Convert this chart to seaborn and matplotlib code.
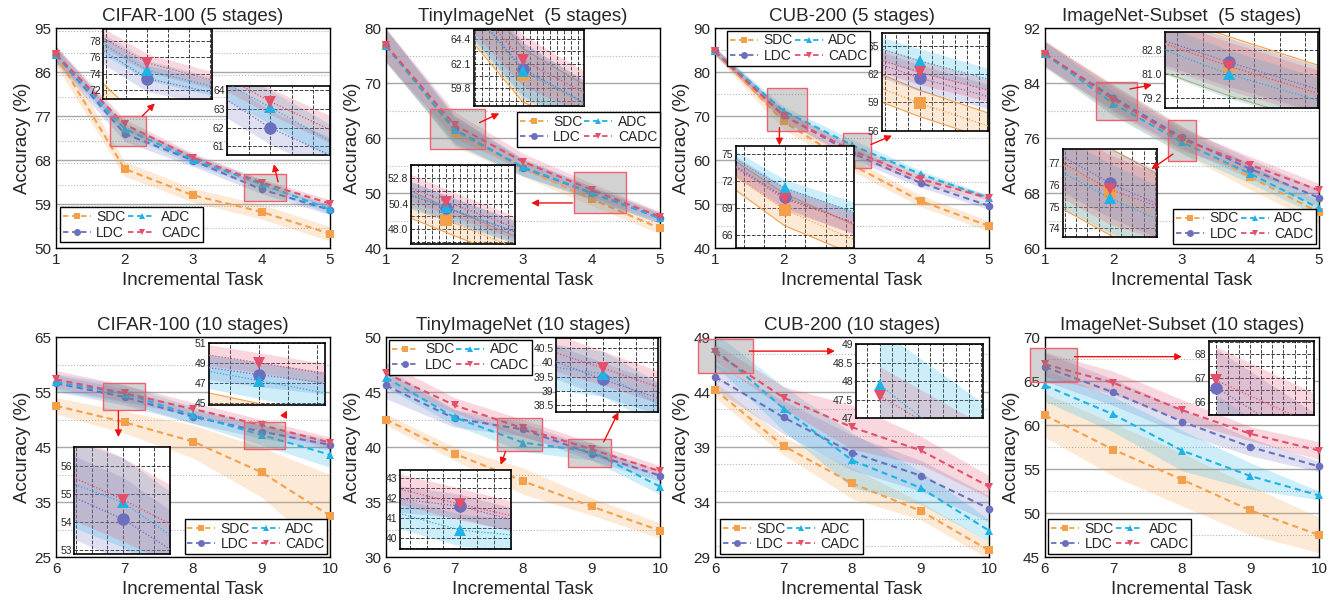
import numpy as np
import pandas as pd
import matplotlib.pyplot as plt
import seaborn as sns
from matplotlib.lines import Line2D
from matplotlib.patches import Rectangle
from matplotlib.ticker import MultipleLocator

sns.set_style("white")
plt.rcParams['font.family'] = ['Liberation Sans', 'DejaVu Sans']

methods = ["SDC", "LDC", "ADC", "CADC"]
tasks_5 = [1, 2, 3, 4, 5]
tasks_10 = [6, 7, 8, 9, 10]

# accuracy (mean) and band half-width per dataset
cifar5_acc = {"SDC": [89.5, 66.2, 60.8, 57.4, 52.9], "LDC": [89.5, 73.4, 67.9, 62.0, 57.8],
              "ADC": [89.5, 74.4, 68.1, 63.1, 57.9], "CADC": [89.6, 75.3, 68.5, 63.4, 59.1]}
cifar5_std = {"SDC": [2.2, 1.5, 1.4, 1.5, 1.5], "LDC": [1.8, 1.6, 1.2, 0.9, 1.0],
              "ADC": [1.5, 1.2, 1.0, 0.9, 0.9], "CADC": [1.6, 1.1, 0.9, 0.7, 0.8]}

tiny5_acc = {"SDC": [76.8, 61.0, 54.5, 48.9, 43.6], "LDC": [76.8, 61.6, 54.6, 50.0, 45.5],
             "ADC": [76.8, 61.4, 54.7, 50.1, 45.4], "CADC": [76.9, 62.4, 55.7, 50.6, 45.7]}
tiny5_std = {"SDC": [3.0, 2.5, 1.5, 1.2, 1.0], "LDC": [3.0, 2.5, 1.5, 1.2, 1.0],
             "ADC": [3.0, 2.6, 1.6, 1.1, 0.9], "CADC": [3.0, 2.4, 1.5, 1.2, 0.9]}

cub5_acc = {"SDC": [84.7, 68.8, 58.9, 50.7, 45.0], "LDC": [84.7, 70.2, 61.6, 54.8, 49.6],
            "ADC": [84.7, 71.2, 63.4, 56.8, 51.4], "CADC": [84.7, 70.0, 62.2, 55.7, 51.3]}
cub5_std = {"SDC": [1.0, 1.8, 1.4, 1.3, 1.2], "LDC": [0.8, 1.2, 1.4, 1.0, 0.8],
            "ADC": [0.8, 1.0, 1.3, 0.8, 0.6], "CADC": [0.8, 1.2, 1.3, 0.9, 0.7]}

inet5_acc = {"SDC": [88.2, 81.6, 75.7, 70.3, 65.2], "LDC": [88.2, 81.9, 76.1, 71.5, 67.3],
             "ADC": [88.2, 81.0, 75.4, 70.8, 65.8], "CADC": [88.3, 81.6, 75.8, 72.1, 68.4]}
inet5_std = {"SDC": [2.0, 2.2, 2.0, 1.8, 1.6], "LDC": [1.8, 1.8, 1.6, 1.4, 1.2],
             "ADC": [1.8, 1.8, 1.6, 1.4, 1.2], "CADC": [1.8, 1.8, 1.6, 1.2, 1.0]}

cifar10_acc = {"SDC": [52.5, 49.5, 46.0, 40.4, 32.5], "LDC": [56.6, 54.1, 50.5, 47.8, 45.4],
               "ADC": [56.8, 54.7, 50.8, 47.2, 43.6], "CADC": [57.3, 54.8, 51.9, 49.0, 45.8]}
cifar10_std = {"SDC": [1.5, 2.0, 3.0, 4.5, 7.5], "LDC": [1.5, 1.5, 1.2, 1.2, 1.0],
               "ADC": [1.5, 1.6, 1.5, 1.8, 2.3], "CADC": [1.6, 1.5, 1.2, 1.0, 1.0]}

tiny10_acc = {"SDC": [42.5, 39.4, 36.9, 34.6, 32.4], "LDC": [45.6, 42.6, 41.6, 39.4, 37.4],
              "ADC": [46.3, 42.7, 40.4, 39.6, 36.4], "CADC": [46.7, 43.8, 41.7, 39.8, 37.8]}
tiny10_std = {"SDC": [0.5, 0.6, 1.2, 0.8, 0.7], "LDC": [1.2, 0.8, 0.6, 0.6, 0.5],
              "ADC": [0.9, 0.7, 0.8, 0.8, 0.7], "CADC": [1.0, 0.7, 0.8, 0.6, 0.5]}

cub10_acc = {"SDC": [44.2, 39.1, 35.7, 33.2, 29.6], "LDC": [45.4, 41.7, 38.5, 36.4, 33.4],
             "ADC": [47.9, 42.5, 37.8, 35.3, 31.4], "CADC": [47.6, 43.5, 40.8, 38.7, 35.4]}
cub10_std = {"SDC": [0.7, 0.8, 1.4, 0.8, 0.8], "LDC": [1.2, 1.5, 1.6, 1.4, 1.2],
             "ADC": [1.5, 2.0, 2.5, 1.5, 1.0], "CADC": [0.8, 1.0, 2.0, 1.3, 1.0]}

inet10_acc = {"SDC": [61.1, 57.2, 53.8, 50.3, 47.5], "LDC": [66.6, 63.7, 60.4, 57.5, 55.3],
              "ADC": [64.5, 61.2, 57.1, 54.2, 52.0], "CADC": [66.9, 64.8, 61.7, 59.0, 57.1]}
inet10_std = {"SDC": [2.5, 3.0, 3.0, 2.8, 2.0], "LDC": [1.6, 1.5, 1.4, 1.0, 0.6],
              "ADC": [1.8, 2.0, 2.3, 1.5, 0.5], "CADC": [1.4, 1.3, 1.2, 0.8, 1.0]}

colors = {"SDC": "#F4A04A", "LDC": "#6B70BE", "ADC": "#1FB3E5", "CADC": "#E2506B"}
markers = {"SDC": "s", "LDC": "o", "ADC": "^", "CADC": "v"}

# layout of each panel: limits, legend spot, zoomed insets
panels = [
    dict(title="CIFAR-100 (5 stages)", tasks=tasks_5, acc=cifar5_acc, std=cifar5_std,
         ylim=(50, 95), ystep=9, legend=("lower left", (0.015, 0.026)),
         insets=[dict(pos=[0.173, 0.677, 0.397, 0.318], xlim=(1.79, 2.31), ylim=(70.9, 79.4),
                      yticks=[72, 74, 76, 78], xstep=0.1, box=(1.79, 2.31, 70.8, 77.1),
                      arrow=((2.23, 76.6), (2.47, 80.0))),
                 dict(pos=[0.625, 0.424, 0.375, 0.314], xlim=(3.75, 4.35), ylim=(60.55, 64.25),
                      yticks=[61, 62, 63, 64], xstep=0.125, box=(3.75, 4.35, 59.6, 65.2),
                      arrow=((4.25, 63.0), (4.17, 67.7)))]),
    dict(title="TinyImageNet  (5 stages)", tasks=tasks_5, acc=tiny5_acc, std=tiny5_std,
         ylim=(40, 80), ystep=10, legend=("lower left", (0.478, 0.46)),
         insets=[dict(pos=[0.32, 0.644, 0.404, 0.345], xlim=(1.64, 2.45), ylim=(58.1, 65.2),
                      yticks=[59.8, 62.1, 64.4], xstep=0.05, yminor=True, box=(1.64, 2.45, 58.0, 65.2),
                      arrow=((2.33, 62.6), (2.69, 64.7))),
                 dict(pos=[0.092, 0.018, 0.379, 0.358], xlim=(3.75, 4.5), ylim=(46.6, 54.0),
                      yticks=[48.0, 50.4, 52.8], xstep=0.05, yminor=True, box=(3.75, 4.5, 46.4, 53.8),
                      arrow=((3.76, 48.2), (3.08, 48.2)))]),
    dict(title="CUB-200 (5 stages)", tasks=tasks_5, acc=cub5_acc, std=cub5_std,
         ylim=(40, 90), ystep=10, legend=("upper left", (0.045, 0.988)),
         insets=[dict(pos=[0.075, 0.0, 0.433, 0.462], xlim=(1.76, 2.34), ylim=(64.5, 75.9),
                      yticks=[66, 69, 72, 75], xstep=0.1, box=(1.76, 2.34, 66.7, 76.4),
                      arrow=((1.94, 68.0), (1.94, 62.7))),
                 dict(pos=[0.61, 0.533, 0.386, 0.444], xlim=(2.84, 3.29), ylim=(56.0, 66.35),
                      yticks=[56, 59, 62, 65], xstep=0.05, box=(2.87, 3.28, 58.2, 66.1),
                      arrow=((3.24, 63.3), (3.62, 65.8)))]),
    dict(title="ImageNet-Subset  (5 stages)", tasks=tasks_5, acc=inet5_acc, std=inet5_std,
         ylim=(60, 92), ystep=8, legend=("lower right", (0.99, 0.02)),
         insets=[dict(pos=[0.437, 0.638, 0.559, 0.342], xlim=(1.75, 2.35), ylim=(78.5, 84.1),
                      yticks=[79.2, 81.0, 82.8], xstep=0.1, box=(1.75, 2.35, 78.6, 84.1),
                      arrow=((2.2, 83.07), (2.6, 83.8))),
                 dict(pos=[0.064, 0.05, 0.345, 0.399], xlim=(2.79, 3.21), ylim=(73.6, 77.65),
                      yticks=[74, 75, 76, 77], xstep=0.05, box=(2.79, 3.21, 72.7, 78.6),
                      arrow=((2.9, 73.9), (2.52, 71.25)))]),
    dict(title="CIFAR-100 (10 stages)", tasks=tasks_10, acc=cifar10_acc, std=cifar10_std,
         ylim=(25, 65), ystep=10, legend=("lower right", (0.99, 0.015)),
         insets=[dict(pos=[0.067, 0.015, 0.349, 0.483], xlim=(6.69, 7.30), ylim=(52.86, 56.67),
                      yticks=[53, 54, 55, 56], xstep=0.1, box=(6.69, 7.30, 51.7, 56.7),
                      arrow=((6.91, 52.1), (6.91, 46.3))),
                 dict(pos=[0.558, 0.693, 0.422, 0.281], xlim=(8.74, 9.34), ylim=(44.8, 51.0),
                      yticks=[45, 47, 49, 51], xstep=0.15, box=(8.74, 9.34, 44.6, 49.5),
                      arrow=((9.31, 50.15), (9.39, 52.1)))]),
    dict(title="TinyImageNet (10 stages)", tasks=tasks_10, acc=tiny10_acc, std=tiny10_std,
         ylim=(30, 50), ystep=5, legend=("upper left", (0.01, 0.988)),
         insets=[dict(pos=[0.05, 0.038, 0.405, 0.359], xlim=(7.64, 8.30), ylim=(39.47, 43.43),
                      yticks=[40, 41, 42, 43], xstep=0.1, yminor=True, box=(7.62, 8.28, 39.6, 42.6),
                      arrow=((7.76, 39.85), (7.66, 38.15))),
                 dict(pos=[0.622, 0.658, 0.369, 0.339], xlim=(8.72, 9.33), ylim=(38.24, 40.87),
                      yticks=[38.5, 39, 39.5, 40, 40.5], xstep=0.1, box=(8.66, 9.28, 38.2, 40.7),
                      arrow=((9.16, 40.25), (9.41, 43.4)))]),
    dict(title="CUB-200 (10 stages)", tasks=tasks_10, acc=cub10_acc, std=cub10_std,
         ylim=(29, 49), ystep=5, legend=("lower left", (0.018, 0.015)),
         insets=[dict(pos=[0.515, 0.632, 0.463, 0.335], xlim=(5.907, 6.407), ylim=(47, 49),
                      yticks=[47, 47.5, 48, 48.5, 49], xstep=0.05, box=(5.75, 6.55, 45.7, 48.8),
                      arrow=((6.46, 47.72), (7.79, 47.72)))]),
    dict(title="ImageNet-Subset (10 stages)", tasks=tasks_10, acc=inet10_acc, std=inet10_std,
         ylim=(45, 70), ystep=5, legend=("lower left", (0.012, 0.015)),
         insets=[dict(pos=[0.597, 0.646, 0.383, 0.334], xlim=(5.93, 6.87), ylim=(65.47, 68.52),
                      yticks=[66, 67, 68], xstep=0.1, yminor=True, box=(5.78, 6.47, 64.9, 68.8),
                      arrow=((6.39, 67.77), (8.04, 67.77)))]),
]


def draw_lines(ax, tasks, acc, std, inset=False):
    rows = [(t, v, m) for m in methods for t, v in zip(tasks, acc[m])]
    df = pd.DataFrame(rows, columns=["task", "acc", "method"])
    for m in methods:
        lo = np.array(acc[m]) - np.array(std[m])
        hi = np.array(acc[m]) + np.array(std[m])
        ax.fill_between(tasks, lo, hi, color=colors[m], alpha=0.22, lw=0, zorder=1)
        if inset and m == "SDC":
            ax.plot(tasks, lo, color=colors[m], lw=0.8, zorder=1)
            ax.plot(tasks, hi, color=colors[m], lw=0.8, zorder=1)
    dash = (1, 1.5) if inset else (3, 2)
    sns.lineplot(data=df, x="task", y="acc", hue="method", style="method",
                 hue_order=methods, style_order=methods, palette=colors,
                 markers=markers, dashes={m: dash for m in methods},
                 markersize=9 if inset else 5.5, linewidth=0.9 if inset else 1.5,
                 markeredgewidth=0, legend=False, ax=ax, zorder=3)
    ax.set_xlabel("")
    ax.set_ylabel("")


fig = plt.figure(figsize=(13.38, 6.05), dpi=100)
lefts = [0.0419, 0.2885, 0.5344, 0.781]
bottoms = [0.590, 0.0793]

handles = [Line2D([], [], color=colors[m], ls="--", dashes=(3, 2), marker=markers[m],
                  ms=5, mew=0, lw=1.3, label=m) for m in methods]

for i, p in enumerate(panels):
    ax = fig.add_axes([lefts[i % 4], bottoms[i // 4], 0.2048, 0.3636])
    tasks = p["tasks"]
    draw_lines(ax, tasks, p["acc"], p["std"])
    for ln in ax.lines:
        ln.set_clip_on(False)

    ax.set_xlim(tasks[0], tasks[-1])
    ax.set_ylim(*p["ylim"])
    ax.set_xticks(tasks)
    ax.set_yticks(np.arange(p["ylim"][0], p["ylim"][1] + 0.1, p["ystep"]))
    ax.xaxis.set_minor_locator(MultipleLocator(0.5))
    ax.yaxis.set_minor_locator(MultipleLocator(p["ystep"] / 2))
    ax.tick_params(which="both", direction="in", labelsize=11, width=1)
    ax.tick_params(which="major", length=4)
    ax.tick_params(axis="x", which="minor", length=2.5)
    ax.tick_params(axis="y", which="minor", length=0)
    ax.grid(axis="y", which="major", color="#a8a8a8", lw=1, ls="-")
    ax.grid(axis="y", which="minor", color="#b4b4b4", lw=0.8, ls=":")
    ax.set_axisbelow(True)
    for s in ax.spines.values():
        s.set_color("black")
        s.set_linewidth(1)
    ax.set_title(p["title"], fontsize=13.5, pad=5)
    ax.set_xlabel("Incremental Task", fontsize=13.5, labelpad=4)
    ax.set_ylabel("Accuracy (%)", fontsize=13.5, labelpad=2)

    loc, anchor = p["legend"]
    leg = ax.legend(handles=handles, ncol=2, loc=loc, bbox_to_anchor=anchor, fontsize=10,
                    frameon=True, fancybox=False, edgecolor="black", framealpha=1,
                    handlelength=2.0, handletextpad=0.4, columnspacing=0.15,
                    borderpad=0.2, labelspacing=0.1, borderaxespad=0)
    leg.get_frame().set_linewidth(1)
    leg.set_zorder(6)

    for ins in p["insets"]:
        x0, x1, y0, y1 = ins["box"]
        ax.add_patch(Rectangle((x0, y0), x1 - x0, y1 - y0, facecolor=(0.5, 0.5, 0.5, 0.35),
                               edgecolor="#F06070", lw=1, zorder=4, clip_on=False))
        ax.annotate("", xy=ins["arrow"][1], xytext=ins["arrow"][0], annotation_clip=False,
                    arrowprops=dict(arrowstyle="-|>", color="#F01010", lw=1, mutation_scale=10),
                    zorder=7)
        iax = ax.inset_axes(ins["pos"])
        iax.set_facecolor("white")
        draw_lines(iax, tasks, p["acc"], p["std"], inset=True)
        iax.set_xlim(*ins["xlim"])
        iax.set_ylim(*ins["ylim"])
        iax.set_yticks(ins["yticks"])
        iax.set_yticklabels([str(v) for v in ins["yticks"]])
        iax.xaxis.set_major_locator(MultipleLocator(ins["xstep"]))
        iax.set_xticklabels([])
        iax.tick_params(which="both", direction="in", labelsize=7.5, length=2, pad=2)
        iax.grid(True, which="major", color="black", ls="--", lw=0.7, alpha=0.75)
        if ins.get("yminor"):
            step = ins["yticks"][1] - ins["yticks"][0]
            iax.yaxis.set_minor_locator(MultipleLocator(step / 2))
            iax.grid(True, axis="y", which="minor", color="black", ls="--", lw=0.7, alpha=0.75)
        for s in iax.spines.values():
            s.set_color("black")
            s.set_linewidth(1.2)

fig.savefig("out.png", dpi=100)
